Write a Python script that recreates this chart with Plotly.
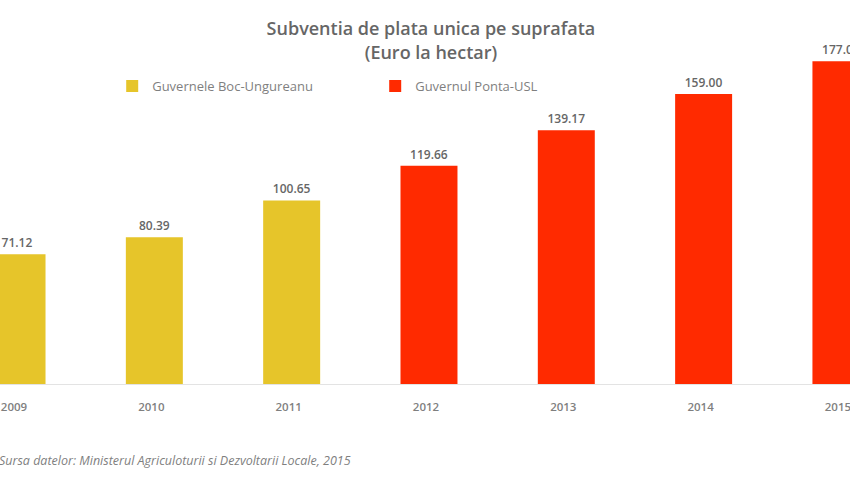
import plotly.graph_objects as go

years = ["2009", "2010", "2011", "2012", "2013", "2014", "2015"]
boc_years = ["2009", "2010", "2011"]
boc_values = [71.12, 80.39, 100.65]
ponta_years = ["2012", "2013", "2014", "2015"]
ponta_values = [119.66, 139.17, 159.00, 177.00]

YELLOW = "#E6C52A"
RED = "#FF2A00"
GREY = "#7F7F7F"
DGREY = "#666666"
FONT = "Open Sans, Lato, sans-serif"

fig = go.Figure()
fig.add_trace(go.Bar(
    x=boc_years, y=boc_values, name="Guvernele Boc-Ungureanu",
    marker=dict(color=YELLOW, line=dict(width=0)), width=0.415,
    text=[f"{v:.2f}" for v in boc_values], textposition="outside",
    textfont=dict(color=DGREY, size=12, family=FONT, weight=600), cliponaxis=False,
))
fig.add_trace(go.Bar(
    x=ponta_years, y=ponta_values, name="Guvernul Ponta-USL",
    marker=dict(color=RED, line=dict(width=0)), width=0.415,
    text=[f"{v:.2f}" for v in ponta_values], textposition="outside",
    textfont=dict(color=DGREY, size=12, family=FONT, weight=600), cliponaxis=False,
))

fig.update_layout(
    width=850, height=479,
    paper_bgcolor="white", plot_bgcolor="white",
    margin=dict(l=0, r=0, t=40, b=95, autoexpand=False),
    barmode="overlay",
    font=dict(family=FONT, color=GREY),
    title=dict(
        text="Subventia de plata unica pe suprafata<br>(Euro la hectar)",
        x=0.507, xanchor="center", y=0.926, yanchor="top",
        font=dict(size=18, color=DGREY, family=FONT, weight=600),
    ),
    showlegend=True,
    legend=dict(
        orientation="h", x=0.132, xanchor="left", y=0.866, yanchor="middle",
        font=dict(size=13, color=GREY, family=FONT),
        tracegroupgap=0, entrywidthmode="pixels", entrywidth=218,
        bgcolor="rgba(0,0,0,0)",
    ),
    xaxis=dict(
        type="category", categoryorder="array", categoryarray=years,
        range=[-0.124, 6.066], showgrid=False, zeroline=False,
        showline=True, linecolor="#E3E3E3", linewidth=1,
        ticks="outside", ticklen=12, tickcolor="rgba(0,0,0,0)",
        tickfont=dict(size=11.5, color=GREY, family=FONT, weight=600),
        ticklabelshift=-3,
        automargin=False,
    ),
    yaxis=dict(
        range=[0, 188.6], showgrid=False, zeroline=False, showticklabels=False,
        showline=False, automargin=False,
    ),
    annotations=[dict(
        text="<i>Sursa datelor: Ministerul Agriculoturii si Dezvoltarii Locale, 2015</i>",
        xref="paper", yref="paper", x=353 / 850, xanchor="right",
        y=-0.221, yanchor="middle", showarrow=False,
        font=dict(size=12.5, color=GREY, family=FONT),
    )],
)

fig.write_html(
    "out.html",
    config={"displayModeBar": False},
    post_script="document.body.style.margin='0';document.body.style.padding='0';document.body.style.overflow='hidden';",
)
